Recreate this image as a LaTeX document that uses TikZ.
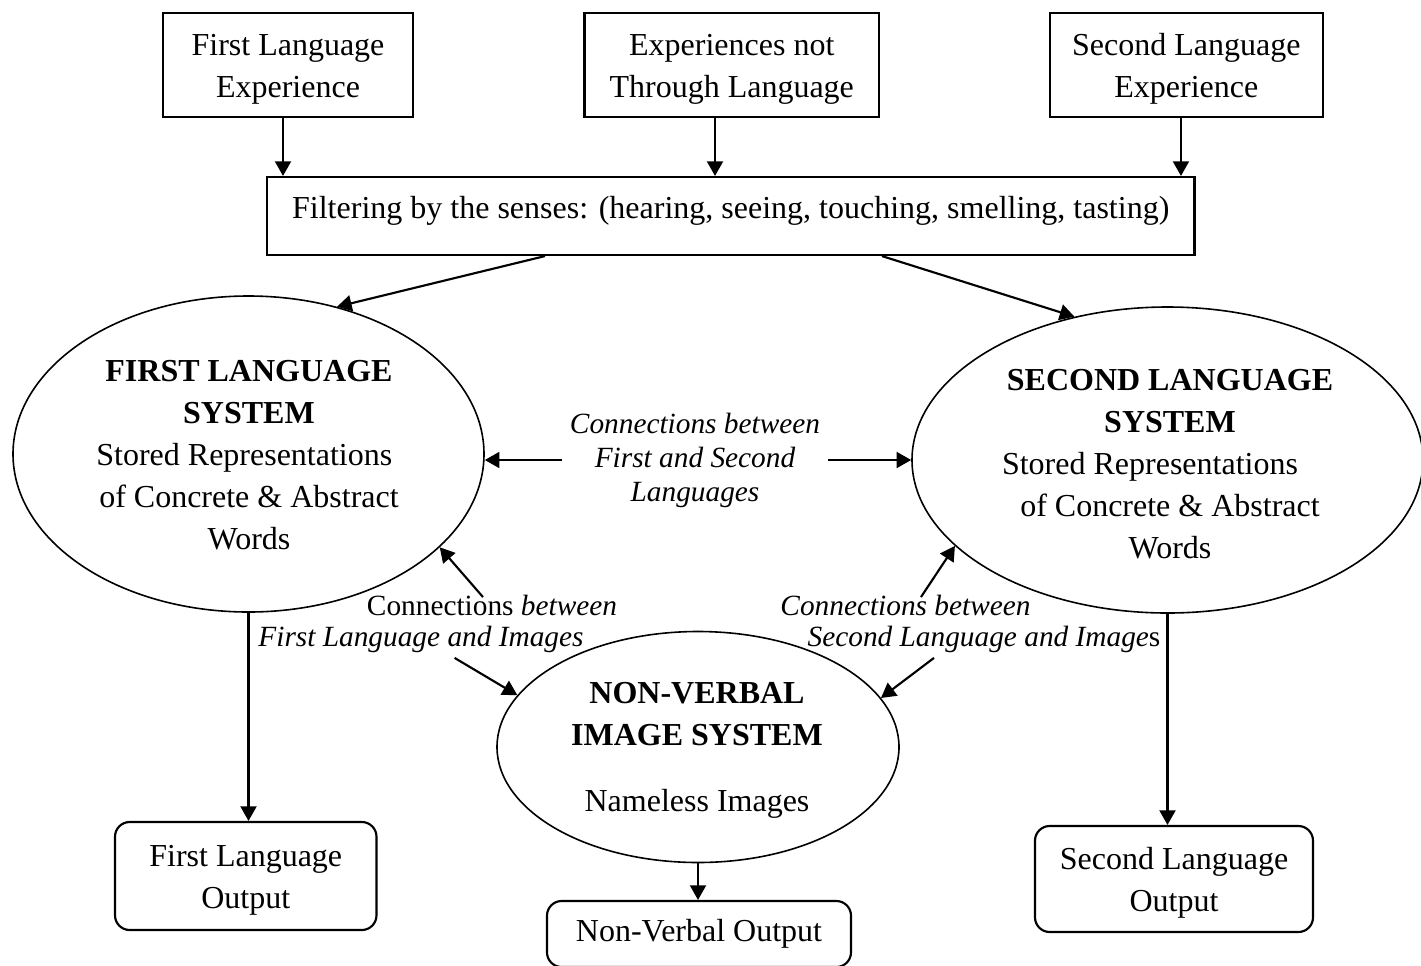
\documentclass[tikz,border=0pt]{standalone}
\usepackage{fontspec}
\setmainfont{Liberation Serif}
\usetikzlibrary{shapes.geometric,arrows.meta}
\begin{document}
\begin{tikzpicture}[x=0.75pt,y=-0.75pt,
  font=\fontsize{24}{31.5}\selectfont,
  box/.style={draw, line width=1.6pt, inner sep=0pt, align=center},
  rbox/.style={box, rounded corners=11pt},
  ell/.style={draw, ellipse, line width=1.2pt, inner sep=0pt},
  arr/.style={line width=1.6pt, -{Triangle[length=11pt,width=12pt]}},
  txt/.style={inner sep=0pt, align=center},
  lbl/.style={inner sep=2pt, align=center, font=\fontsize{22}{25.5}\selectfont\itshape},
  lblup/.style={inner sep=2pt, align=center, font=\fontsize{22}{25.5}\selectfont}]
\useasboundingbox (0,0) rectangle (1421,965);

% top boxes
\node[box, minimum width=187.5pt, minimum height=78pt] (b1) at (288,65) {\strut First Language\\Experience};
\node[box, minimum width=220.9pt, minimum height=78pt] (b2) at (731.75,65) {\strut Experiences not\\Through Language};
\node[box, minimum width=204.5pt, minimum height=78pt] (b3) at (1186.3,65) {\strut Second Language\\Experience};

% filter box
\node[box, minimum width=695.6pt, minimum height=58.5pt] (filter) at (730.75,216) {};
\node[txt] (filtertext) at (730.75,211) {Filtering by the senses: (hearing, seeing, touching, smelling, tasting)};

% ellipses
\node[ell, minimum width=353.25pt, minimum height=237pt] (e1) at (248.5,454) {};
\node[ell, minimum width=383.25pt, minimum height=229.5pt] (e2) at (1167.5,460) {};
\node[ell, minimum width=301.5pt, minimum height=173.25pt] (e3) at (698,747) {};

\node[txt] (t1) at (249,455) {\textbf{FIRST LANGUAGE}\\\textbf{SYSTEM}\\Stored Representations\kern7pt\relax\\of Concrete \& Abstract\\Words};
\node[txt] (t2) at (1170,464) {\textbf{SECOND LANGUAGE}\\\textbf{SYSTEM}\\Stored Representations\kern30pt\relax\\of Concrete \& Abstract\\Words};
\node[txt, font=\fontsize{24}{31}\selectfont\bfseries] (t3a) at (697,714) {NON-VERBAL\\IMAGE SYSTEM};
\node[txt] (t3b) at (697,804) {Nameless Images};

% outputs
\node[rbox, minimum width=196.1pt, minimum height=81pt] (o1) at (245.75,876) {\strut First Language\\Output};
\node[rbox, minimum width=208.5pt, minimum height=79.5pt] (o2) at (1174,879) {\strut Second Language\\Output};
\node[rbox, minimum width=228pt, minimum height=49.5pt] (o3) at (699,934) {Non-Verbal Output};

% labels
\node[lbl] (midlab) at (695,460) {Connections between\\First and Second\\Languages};
\node[lblup] (lab1a) at (492,605) {Connections \textit{between}};
\node[lbl] (lab1b) at (421,639) {First Language and Images};
\node[lbl] (lab2a) at (905.5,605) {Connections between};
\node[lblup] (lab2b) at (984,639) {\textit{Second Language and Image}s};

% arrows: top boxes to filter
\draw[arr] ([xshift=-3.75pt]b1.south) -- ([xshift=-3.75pt]b1.south |- filter.north);
\draw[arr] ([xshift=-12.56pt]b2.south) -- ([xshift=-12.56pt]b2.south |- filter.north);
\draw[arr] ([xshift=-4pt]b3.south) -- ([xshift=-4pt]b3.south |- filter.north);

% filter to ellipses
\draw[arr] ([xshift=-139.3pt]filter.south) -- (e1.59);
\draw[arr] ([xshift=113.4pt]filter.south) -- (e2.123);

% between languages
\draw[arr] ([xshift=-4pt]midlab.west) -- (midlab.west -| e1.east);
\draw[arr] ([xshift=4pt]midlab.east) -- (midlab.east -| e2.west);

% language <-> images
\draw[arr] ([xshift=-6.75pt,yshift=-4pt]lab1a.north) -- (e1.-26.4);
\draw[arr] ([xshift=11.6pt,yshift=-4pt]lab2a.north) -- (e2.202);
\draw[arr] ([xshift=25.2pt,yshift=-2pt]lab1b.south) -- (e3.164.6);
\draw[arr] ([xshift=-37.5pt,yshift=-2pt]lab2b.south) -- (e3.15.6);

% outputs
\draw[arr] (e1.south) -- (e1.south |- o1.north);
\draw[arr] (e2.south) -- (e2.south |- o2.north);
\draw[arr] (e3.south) -- (e3.south |- o3.north);
\end{tikzpicture}
\end{document}
